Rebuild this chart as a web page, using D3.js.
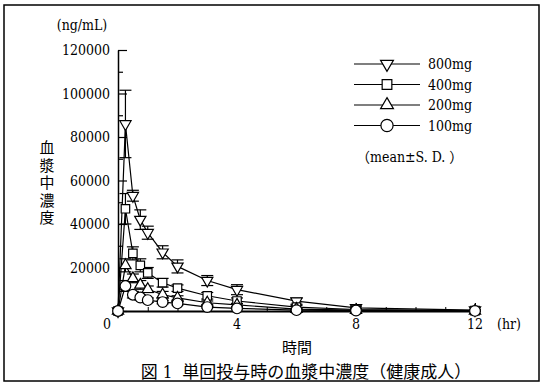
<!DOCTYPE html>
<html>
<head>
<meta charset="utf-8">
<script src="https://cdn.jsdelivr.net/npm/d3@7"></script>
<style>
  body { margin: 0; background: #fff; }
</style>
</head>
<body>
<main></main>
<script>
// data (ng/mL)
const times = [0, 0.25, 0.5, 0.75, 1, 1.5, 2, 3, 4, 6, 8, 12];
const doses = ["800mg", "400mg", "200mg", "100mg"];
const mean800 = [0, 86000, 53000, 42000, 36000, 27000, 20500, 14000, 9800, 4500, 1400, 400];
const sd800   = [0, 15500, 2500, 4500, 3000, 3000, 3000, 2300, 2300, 1400, 500, 200];
const mean400 = [0, 47000, 26500, 21000, 17500, 13000, 10500, 7000, 4600, 1800, 700, 200];
const sd400   = [0, 7000, 3000, 3000, 2500, 2000, 1500, 1500, 1400, 800, 300, 100];
const mean200 = [0, 21000, 15000, 12000, 10000, 7500, 6000, 3800, 2800, 900, 400, 100];
const sd200   = [0, 3000, 2000, 2000, 1500, 1500, 1000, 800, 700, 300, 150, 50];
const mean100 = [0, 11500, 7500, 6200, 5000, 4100, 3500, 1800, 1200, 400, 200, 50];
const sd100   = [0, 2500, 1500, 1200, 1000, 800, 700, 400, 300, 150, 80, 30];
const yTicks = [0, 20000, 40000, 60000, 80000, 100000, 120000];
const xTicks = [0, 4, 8, 12];

const size = { width: 543, height: 384 };
const plot = { left: 118, right: 475, top: 50, bottom: 311 };
const serif = "'DejaVu Serif Condensed', 'DejaVu Serif', 'Noto Sans CJK JP', serif";

const svg = d3.select('main').append('svg')
  .attr('width', size.width)
  .attr('height', size.height)
  .style('font-family', serif);

// frame
svg.append('rect')
  .attr('x', 4).attr('y', 5)
  .attr('width', 535).attr('height', 376)
  .attr('fill', 'none').attr('stroke', '#000').attr('stroke-width', 1.5);

const x = d3.scaleLinear().domain([0, 12]).range([plot.left, plot.right]);
const y = d3.scaleLinear().domain([0, 120000]).range([plot.bottom, plot.top]);

// y axis: ticks pointing inward
const yAxis = svg.append('g').attr('transform', `translate(${plot.left},0)`);
yAxis.call(d3.axisRight(y).tickValues(d3.range(0, 120001, 10000))
    .tickSize(5).tickSizeOuter(0).tickFormat(''));
yAxis.selectAll('.tick line').filter(d => d % 20000 === 0).attr('x2', 9);
yAxis.select('.domain').attr('stroke-width', 1.5);
yAxis.selectAll('.tick line').attr('stroke-width', 1.2);

svg.append('g').selectAll('text')
  .data(yTicks.filter(d => d > 0))
  .join('text')
  .attr('x', plot.left - 8)
  .attr('y', d => y(d) + 5)
  .attr('text-anchor', 'end')
  .attr('font-size', 14)
  .text(d => d);

// x axis: ticks pointing up
const xAxis = svg.append('g').attr('transform', `translate(0,${plot.bottom})`);
xAxis.call(d3.axisTop(x).tickValues(d3.range(0, 13, 1))
    .tickSize(4).tickSizeOuter(0).tickFormat(''));
xAxis.selectAll('.tick line').filter(d => d % 4 === 0).attr('y2', -8);
xAxis.select('.domain').attr('stroke-width', 2.2);

svg.append('g').selectAll('text')
  .data(xTicks)
  .join('text')
  .attr('x', d => d === 0 ? x(d) - 11 : x(d))
  .attr('y', 329)
  .attr('text-anchor', 'middle')
  .attr('font-size', 14)
  .text(d => d);

svg.append('text').attr('x', 509).attr('y', 329).attr('text-anchor', 'middle')
  .attr('font-size', 14).text('(hr)');
svg.append('text').attr('x', 297).attr('y', 353).attr('text-anchor', 'middle')
  .attr('font-size', 15).text('時間');
svg.append('text').attr('x', 82).attr('y', 30).attr('text-anchor', 'middle')
  .attr('font-size', 14).text('(ng/mL)');
svg.append('g').selectAll('text')
  .data(Array.from('血漿中濃度'))
  .join('text')
  .attr('x', 47)
  .attr('y', (d, i) => 153 + i * 17.5)
  .attr('text-anchor', 'middle')
  .attr('font-size', 15)
  .text(d => d);
svg.append('text').attr('x', 306).attr('y', 378).attr('text-anchor', 'middle')
  .attr('font-size', 17).style('white-space', 'pre')
  .text('図 1  単回投与時の血漿中濃度（健康成人）');

// series
const series = [
  { name: doses[0], mean: mean800, sd: sd800, shape: d3.symbolTriangle, rot: 180, area: 55 },
  { name: doses[1], mean: mean400, sd: sd400, shape: d3.symbolSquare, rot: 0, area: 72 },
  { name: doses[2], mean: mean200, sd: sd200, shape: d3.symbolTriangle, rot: 0, area: 55 },
  { name: doses[3], mean: mean100, sd: sd100, shape: d3.symbolCircle, rot: 0, area: 90 }
];

const line = d3.line().x(d => x(d.t)).y(d => y(d.v));

series.forEach(s => {
  const pts = times.map((t, i) => ({ t, v: s.mean[i], sd: s.sd[i] }));
  s.pts = pts;
  svg.append('path').datum(pts).attr('d', line)
    .attr('fill', 'none').attr('stroke', '#000').attr('stroke-width', 1.2);

  const eb = svg.append('g').attr('stroke', '#000').attr('stroke-width', 1.2);
  pts.filter(p => p.sd > 0).forEach(p => {
    const cx = x(p.t), hi = y(p.v + p.sd), lo = y(Math.max(0, p.v - p.sd));
    eb.append('line').attr('x1', cx).attr('x2', cx).attr('y1', hi).attr('y2', lo);
    eb.append('line').attr('x1', cx - 6).attr('x2', cx + 6).attr('y1', hi).attr('y2', hi);
    eb.append('line').attr('x1', cx - 6).attr('x2', cx + 6).attr('y1', lo).attr('y2', lo);
  });
});

series.forEach(s => {
  svg.append('g').selectAll('path')
    .data(s.pts)
    .join('path')
    .attr('d', d3.symbol().type(s.shape).size(s.area))
    .attr('transform', d => `translate(${x(d.t)},${y(d.v)}) rotate(${s.rot})`)
    .attr('fill', '#fff').attr('stroke', '#000').attr('stroke-width', 1.2);
});

// legend
const legend = svg.append('g');
series.forEach((s, i) => {
  const ly = 64 + i * 20.5;
  legend.append('line').attr('x1', 354).attr('x2', 420).attr('y1', ly).attr('y2', ly)
    .attr('stroke', '#000').attr('stroke-width', 1.2);
  legend.append('path')
    .attr('d', d3.symbol().type(s.shape).size(s.area * 1.3))
    .attr('transform', `translate(387,${ly}) rotate(${s.rot})`)
    .attr('fill', '#fff').attr('stroke', '#000').attr('stroke-width', 1.2);
  legend.append('text').attr('x', 428).attr('y', ly + 5).attr('font-size', 14).text(s.name);
});
legend.append('text').attr('x', 356).attr('y', 162).attr('font-size', 14)
  .style('white-space', 'pre').text('（mean±S. D. ）');
</script>
</body>
</html>
